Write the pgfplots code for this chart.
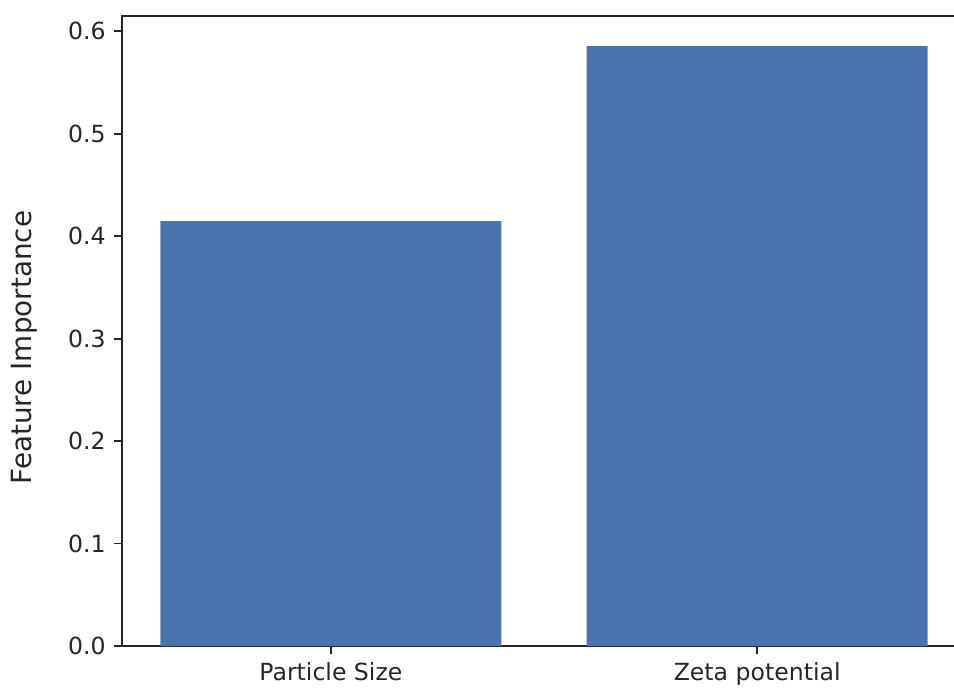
\documentclass[border=0pt]{standalone}
\usepackage{pgfplots}
\pgfplotsset{compat=1.18}
\usepackage{fontspec}
\setmainfont{DejaVu Sans}
\definecolor{barblue}{HTML}{4B74AE}
\definecolor{inkgray}{HTML}{262626}

\begin{document}
\begin{tikzpicture}
\begin{axis}[
  scale only axis,
  width=357.9pt, height=267.1pt,
  xmin=-0.49, xmax=1.49,
  ymin=0, ymax=0.6147,
  ybar, bar width=0.8,
  xtick={0,1},
  xticklabels={Particle Size, Zeta potential},
  ytick={0,0.1,0.2,0.3,0.4,0.5,0.6},
  yticklabel style={/pgf/number format/.cd, fixed, fixed zerofill, precision=1},
  /pgf/number format/assume math mode=true,
  tick pos=left,
  tick align=outside,
  major tick length=3.4pt,
  tick style={inkgray, line width=0.8pt},
  axis line style={inkgray, line width=0.8pt},
  ticklabel style={font=\fontsize{10}{12}\selectfont, text=inkgray},
  ylabel={Feature Importance},
  ylabel style={font=\fontsize{11.8}{14}\selectfont, text=inkgray,
    at={(axis description cs:-0.1161,0.4738)}, anchor=center},
  clip=false,
]
\addplot[fill=barblue, draw=none] coordinates {(0,0.4146) (1,0.5854)};
\end{axis}
% page limits: the frame's right edge lies just beyond the page
\pgfresetboundingbox
\path[use as bounding box] ([xshift=-51.73pt,yshift=-17.38pt]current axis.south west) rectangle ++(404.5pt,291.3pt);
\end{tikzpicture}
\end{document}
